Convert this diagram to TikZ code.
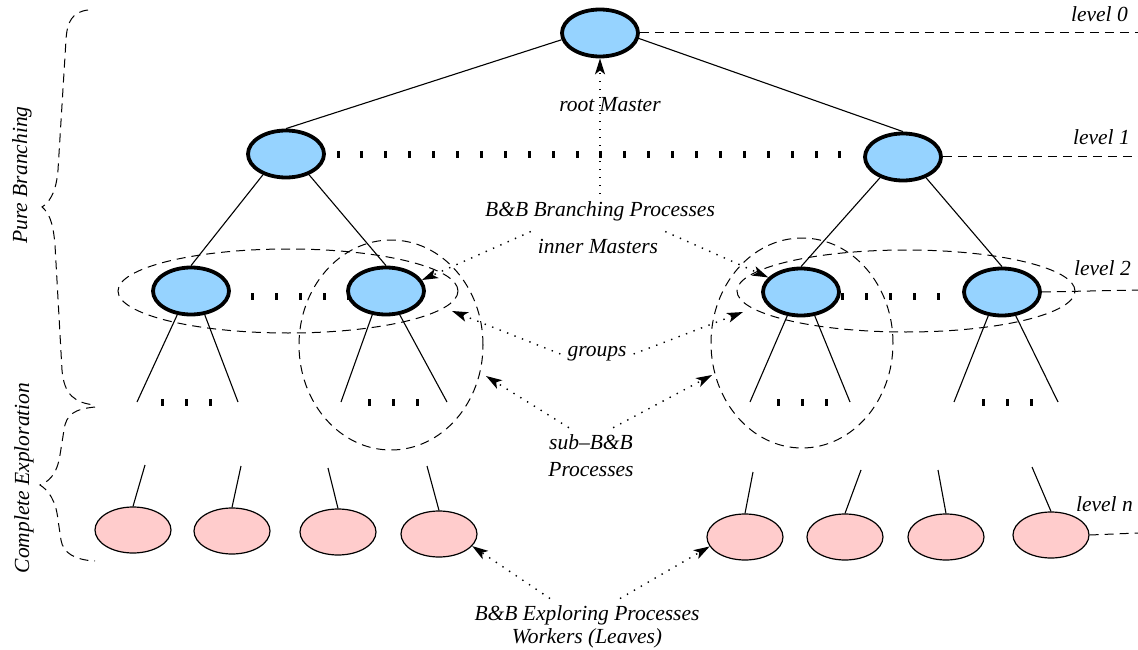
\documentclass[tikz,border=0pt]{standalone}
\usepackage{fontspec}
\setmainfont{Liberation Serif}
\usetikzlibrary{arrows.meta,shapes.geometric}

\definecolor{masterblue}{RGB}{150,211,255}
\definecolor{leafpink}{RGB}{255,204,204}

\begin{document}
\begin{tikzpicture}[x=1pt, y=-1pt,
  master/.style={ellipse, draw, line width=3.8pt, fill=masterblue, minimum width=76pt, minimum height=47pt, inner sep=0pt},
  leaf/.style={ellipse, draw, line width=1.2pt, fill=leafpink, minimum width=76pt, minimum height=46pt, inner sep=0pt},
  groupring/.style={ellipse, draw, dash pattern=on 9pt off 6pt, line width=1pt, inner sep=0pt},
  branch/.style={line width=1.1pt},
  levelline/.style={dash pattern=on 9pt off 6pt, line width=1pt},
  tickmark/.style={line width=3pt},
  pointer/.style={line width=1.4pt, dash pattern=on 1.4pt off 6.6pt, -{Stealth[length=16pt,width=10pt,inset=4pt]}},
  lbl/.style={font=\fontsize{21.5}{26}\selectfont\itshape, inner sep=7pt},
]
\useasboundingbox (0,0) rectangle (1138,650);

%groups (dashed)
\node[groupring, minimum width=340pt, minimum height=84pt] (gL) at (288,291) {};
\node[groupring, minimum width=184pt, minimum height=210pt] (gVL) at (391,345) {};
\node[groupring, minimum width=338pt, minimum height=82pt] (gR) at (906,291) {};
\node[groupring, minimum width=182pt, minimum height=210pt] (gVR) at (802,343) {};

%masters
\node[master] (root) at (600,33) {};
\node[master] (l1a) at (286,154) {};
\node[master] (l1b) at (903,157) {};
\node[master] (l2a) at (191,291) {};
\node[master] (l2b) at (386,291) {};
\node[master] (r1) at (801,292) {};
\node[master] (r2) at (1002,292) {};

%workers
\foreach \n/\x/\y in {lf1/133/530, lf2/232/531, lf3/338/532, lf4/439/534,
                      lf5/745/537, lf6/845/537, lf7/946/537, lf8/1051/535}
   \node[leaf] (\n) at (\x,\y) {};

%tree edges
\draw[branch] (root.190) -- (l1a.north);
\draw[branch] (root.-8) -- (l1b.north);
\draw[branch] (l1a.222) -- (l2a.north);
\draw[branch] (l1a.318) -- (l2b.north);
\draw[branch] (l1b.222) -- (r1.north);
\draw[branch] (l1b.318) -- (r2.north);

%open branches below level 2
\foreach \n/\a/\b in {l2a/137/238, l2b/341/447, r1/750/850, r2/954/1058}{
   \coordinate (\n-l) at (\a,402);
   \coordinate (\n-r) at (\b,402);
   \draw[branch] (\n.240) -- (\n-l);
   \draw[branch] (\n.300) -- (\n-r);
}
\foreach \n/\x/\y in {lf1/145/465, lf2/241/466, lf3/328/468, lf4/427/466,
                      lf5/753/472, lf6/861/470, lf7/938/470, lf8/1032/467}{
   \coordinate (\n-up) at (\x,\y);
   \draw[branch] (\n-up) -- (\n.north);
}

%dots
\foreach \i in {0,...,21}
   \draw[tickmark] (338+23.9*\i,151) -- (338+23.9*\i,158);
\foreach \x in {252,276,300,324,348,842,866,890,914,938}
   \draw[tickmark] (\x,293) -- (\x,300);
\foreach \x in {162,186,210,369,393,417,778,802,826,983,1007,1031}
   \draw[tickmark] (\x,399) -- (\x,406);

%levels
\coordinate (lv0) at (1138,33);
\coordinate (lv1) at (1138,157);
\coordinate (lv2) at (1138,290);
\coordinate (lvn) at (1138,533);
\draw[levelline] (root.east) -- (lv0);
\draw[levelline] (l1b.east) -- (lv1);
\draw[levelline] (r2.east) -- (lv2);
\draw[levelline] (lf8.east) -- (lvn);
\node[lbl, anchor=base east, inner sep=0pt] (lv0txt) at (1128,22) {level 0};
\node[lbl, anchor=base east, inner sep=0pt] (lv1txt) at (1130,145) {level 1};
\node[lbl, anchor=base east, inner sep=0pt] (lv2txt) at (1131,275) {level 2};
\node[lbl, anchor=base east, inner sep=0pt] (lvntxt) at (1133,511) {level n};

%braces on the left
\draw[levelline] (88,10) .. controls (72,12) and (67,22) .. (66,40) -- (58,170)
   .. controls (56,195) and (48,203) .. (42,207)
   .. controls (48,212) and (53,220) .. (55,245) -- (62,370)
   .. controls (64,395) and (75,403) .. (95,405);
\draw[levelline] (95,407) .. controls (75,409) and (66,414) .. (64,430) -- (60,455)
   .. controls (57,475) and (48,482) .. (40,485)
   .. controls (48,490) and (56,500) .. (58,520) -- (61,540)
   .. controls (63,553) and (75,560) .. (95,561);
\node[lbl, rotate=90] (purelbl) at (22,175) {Pure Branching};
\node[lbl, rotate=90] (explorelbl) at (24,478) {Complete Exploration};

%labels
\node[lbl] (rootlbl) at (610,105) {root Master};
\node[lbl] (branchlbl) at (600,211) {B\&B Branching Processes};
\node[lbl] (innerlbl) at (598,246) {inner Masters};
\node[lbl] (grplbl) at (597,354) {groups};
\node[lbl, align=center] (sublbl) at (591,456) {sub--B\&B\\[1pt]Processes};
\node[lbl, align=center] (explbl) at (587,627) {B\&B Exploring Processes\\[-3pt]Workers (Leaves)};

%arrows
\coordinate (tipGL) at (452,311);
\coordinate (tipGR) at (743,312);
\coordinate (tipSL) at (486,376);
\coordinate (tipSR) at (712,375);
\draw[pointer] (branchlbl.north) -- (root.south);
\draw[pointer] (innerlbl.north west) -- (l2b.17);
\draw[pointer] (innerlbl.north east) -- (r1.156);
\draw[pointer] (grplbl.west) -- (tipGL);
\draw[pointer] (grplbl.east) -- (tipGR);
\draw[pointer] (sublbl.128) -- (tipSL);
\draw[pointer] (sublbl.52) -- (tipSR);
\draw[pointer] ([xshift=-37pt]explbl.north) -- (lf4.-20);
\draw[pointer] ([xshift=33pt]explbl.north) -- (lf5.195);
\end{tikzpicture}
\end{document}
